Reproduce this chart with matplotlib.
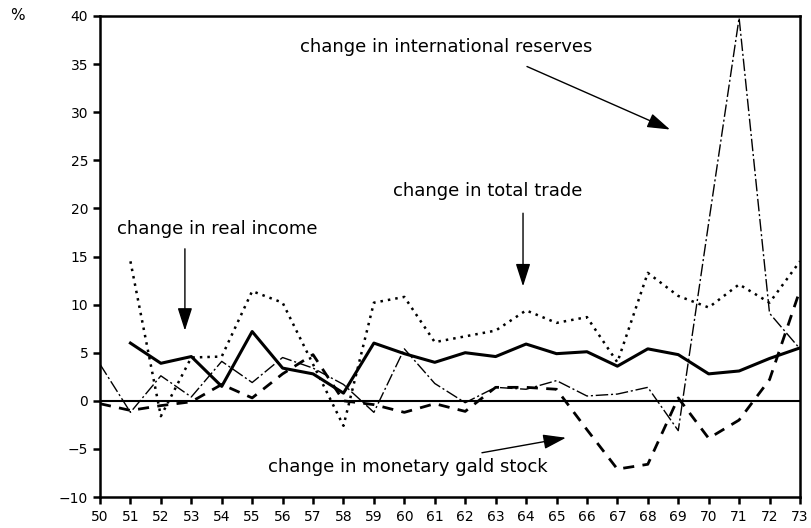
import matplotlib.pyplot as plt

# annual percentage changes, 1950-1973
years = list(range(50, 74))
income_years = list(range(51, 74))
real_income = [6.0, 3.9, 4.6, 1.5, 7.2, 3.4, 2.8, 0.8, 6.0, 4.9, 4.0, 5.0,
               4.6, 5.9, 4.9, 5.1, 3.6, 5.4, 4.8, 2.8, 3.1, 4.4, 5.5]
total_trade = [14.5, -1.6, 4.5, 4.6, 11.4, 10.2, 3.8, -2.6, 10.2, 10.8, 6.1,
               6.7, 7.3, 9.4, 8.1, 8.7, 4.0, 13.3, 10.9, 9.7, 12.1, 10.2, 14.5]
reserves = [3.8, -1.2, 2.6, 0.4, 4.1, 1.9, 4.5, 3.4, 1.7, -1.2, 5.4, 1.8,
            -0.2, 1.4, 1.2, 2.1, 0.5, 0.7, 1.4, -3.1, 18.5, 39.8, 9.1, 5.4]
gold_stock = [-0.3, -1.0, -0.5, -0.1, 1.7, 0.3, 2.8, 4.8, 0.0, -0.4, -1.2,
              -0.3, -1.1, 1.4, 1.4, 1.2, -3.0, -7.1, -6.6, 0.3, -3.9, -2.0,
              2.2, 11.5]

fig = plt.figure(figsize=(8.11, 5.28), dpi=100)
ax = fig.add_axes([0.1233, 0.0587, 0.8631, 0.911])

ax.plot(income_years, real_income, c='black', lw=2.2)
ax.plot(income_years, total_trade, c='black', lw=1.8, ls=(0, (1, 2)))
ax.plot(years, reserves, c='black', lw=1.0, ls=(0, (9, 2, 1.5, 2)))
ax.plot(years, gold_stock, c='black', lw=2.0, ls=(0, (4, 3)))
ax.axhline(0, c='black', lw=1.5)

ax.set_xlim(50, 73)
ax.set_ylim(-10, 40)
ax.set_xticks(years)
ax.set_yticks(range(-10, 41, 5))
for s in ax.spines.values():
    s.set_linewidth(1.8)
ax.tick_params(axis='both', direction='out', length=5, width=1.8,
               labelsize=10)
ax.tick_params(axis='x', pad=4)
fig.text(0.012, 0.962, '%', fontsize=11)

# labels and arrows for each series
arrow = dict(arrowstyle='-|>,head_length=1.4,head_width=0.45',
             color='black', lw=1.0, shrinkA=0, shrinkB=0)
fs = 13
ax.text(56.57, 36.8, 'change in international reserves', fontsize=fs,
        va='center')
ax.annotate('', xy=(68.73, 28.2), xytext=(64.03, 34.75), arrowprops=arrow)
ax.text(59.63, 21.8, 'change in total trade', fontsize=fs, va='center')
ax.annotate('', xy=(63.9, 11.9), xytext=(63.9, 19.5), arrowprops=arrow)
ax.text(50.56, 17.9, 'change in real income', fontsize=fs, va='center')
ax.annotate('', xy=(52.79, 7.3), xytext=(52.79, 15.8), arrowprops=arrow)
ax.text(55.52, -6.85, 'change in monetary gald stock', fontsize=fs,
        va='center')
ax.annotate('', xy=(65.31, -3.84), xytext=(62.55, -5.4), arrowprops=arrow)

plt.savefig('out.png', dpi=100)
